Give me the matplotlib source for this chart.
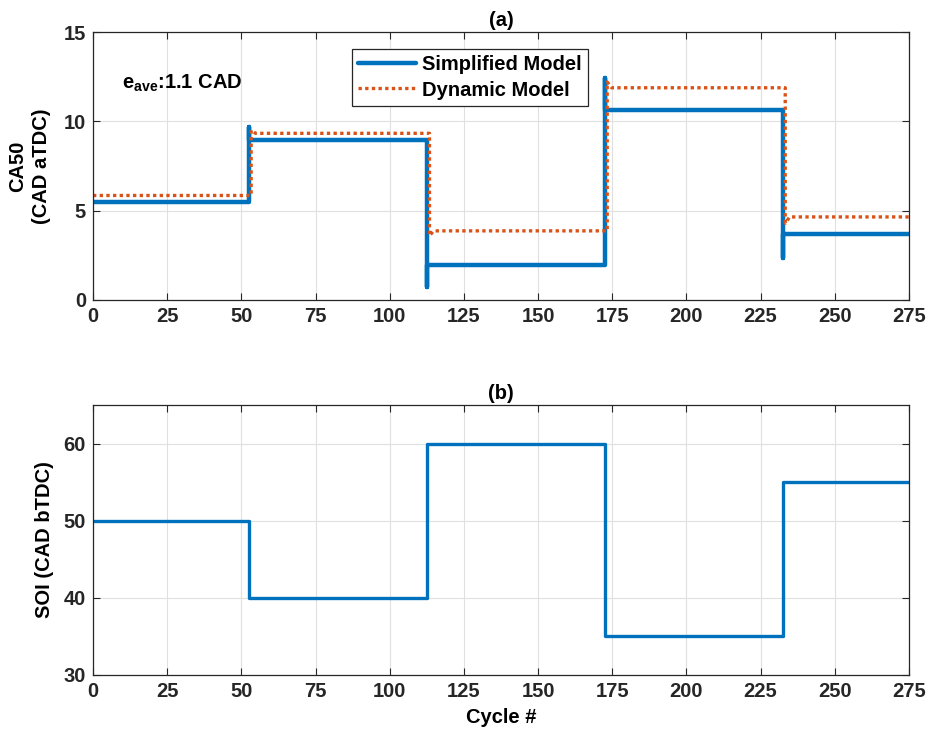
import numpy as np
import matplotlib.pyplot as plt

plt.rcParams['font.family'] = ['Liberation Sans', 'DejaVu Sans']
plt.rcParams['font.weight'] = 'bold'
plt.rcParams['font.size'] = 14.5
plt.rcParams['mathtext.fontset'] = 'custom'
plt.rcParams['mathtext.bf'] = 'Liberation Sans:bold'

# CA50 (CAD aTDC) - corner points of the step traces
simp_cycle = [0, 52.5, 52.5, 52.5, 112.5, 112.5, 112.5, 172.5, 172.5, 172.5, 232.5, 232.5, 232.5, 275]
simp_ca50 = [5.5, 5.5, 9.7, 8.95, 8.95, 0.7, 1.95, 1.95, 12.4, 10.65, 10.65, 2.35, 3.7, 3.7]

dyn_cycle = [0, 53.3, 53.3, 54.8, 113.4, 113.4, 114.8, 173.3, 173.3, 174.8, 233.3, 233.3, 234.8, 275]
dyn_ca50 = [5.85, 5.85, 9.5, 9.33, 9.33, 3.6, 3.87, 3.87, 12.2, 11.88, 11.88, 4.3, 4.65, 4.65]

# SOI (CAD bTDC)
soi_cycle = [0, 52.5, 52.5, 112.5, 112.5, 172.5, 172.5, 232.5, 232.5, 275]
soi = [50, 50, 40, 40, 60, 60, 35, 35, 55, 55]

blue = '#0072BD'
orange = '#D95319'

fig = plt.figure(figsize=(9.28, 7.38), dpi=100)
ax1 = fig.add_axes([0.1002, 0.5935, 0.8793, 0.3631])
ax2 = fig.add_axes([0.1002, 0.0854, 0.8793, 0.3659])


def style(ax):
    ax.grid(True, color='#e0e0e0', linewidth=0.8)
    ax.set_axisbelow(True)
    ax.tick_params(direction='in', top=True, right=True, length=5,
                   width=0.8, colors='#262626', labelsize=14.5, pad=5)
    for s in ax.spines.values():
        s.set_color('#262626')
        s.set_linewidth(0.9)
    ax.set_xlim(0, 275)
    ax.set_xticks(np.arange(0, 276, 25))


ax1.plot(simp_cycle, simp_ca50, color=blue, lw=3.2, label='Simplified Model',
         solid_capstyle='round', solid_joinstyle='round')
ax1.plot(dyn_cycle, dyn_ca50, color=orange, lw=2.4, ls=(0, (1, 1)),
         label='Dynamic Model')
style(ax1)
ax1.set_ylim(0, 15)
ax1.set_yticks([0, 5, 10, 15])
ax1.set_ylabel('CA50\n(CAD aTDC)', fontweight='bold', labelpad=9,
               linespacing=1.35)
ax1.set_title('(a)', fontweight='bold', fontsize=14.5, pad=4)
ax1.text(9.8, 12.1, r'e$_{\mathbf{ave}}$:1.1 CAD', fontsize=14.5,
         fontweight='bold', va='center')
leg = ax1.legend(loc='upper left', bbox_to_anchor=(0.317, 0.935),
                 fancybox=False, edgecolor='#262626', framealpha=1,
                 handlelength=2.9, borderpad=0.3, labelspacing=0.3,
                 handletextpad=0.3, borderaxespad=0,
                 prop={'weight': 'bold', 'size': 14.5})
leg.get_frame().set_linewidth(0.9)

ax2.plot(soi_cycle, soi, color=blue, lw=2.4)
style(ax2)
ax2.set_ylim(30, 65)
ax2.set_yticks([30, 40, 50, 60])
ax2.set_ylabel('SOI (CAD bTDC)', fontweight='bold', labelpad=7)
ax2.set_title('(b)', fontweight='bold', fontsize=14.5, pad=4)
ax2.set_xlabel('Cycle #', fontweight='bold', labelpad=5)

fig.savefig('out.png', dpi=100)
